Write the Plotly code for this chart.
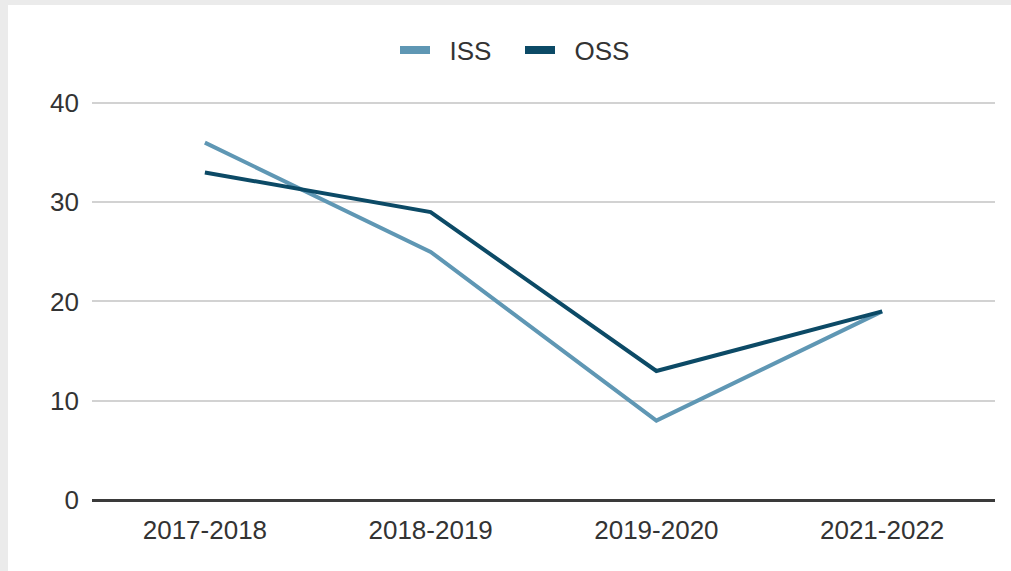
import plotly.graph_objects as go

# School years on the x axis
years = ["2017-2018", "2018-2019", "2019-2020", "2021-2022"]

# Counts per year
iss = [36, 25, 8, 19]
oss = [33, 29, 13, 19]

y_ticks = [0, 10, 20, 30, 40]

iss_color = "#5f97b4"
oss_color = "#0c4a66"
text_color = "#333333"
font_family = "Liberation Sans, Arial, sans-serif"

W, H = 1011, 571
ML, MR, MT, MB = 92, 16, 98, 71
PW, PH = W - ML - MR, H - MT - MB
Y_MAX = 40.5


def px_x(p):
    return (p - ML) / PW


def px_y(p):
    return (H - MB - p) / PH


fig = go.Figure()

# Data lines
fig.add_trace(go.Scatter(x=years, y=iss, mode="lines", name="ISS",
                         line=dict(color=iss_color, width=4),
                         showlegend=False, legendgroup="iss"))
fig.add_trace(go.Scatter(x=years, y=oss, mode="lines", name="OSS",
                         line=dict(color=oss_color, width=4),
                         showlegend=False, legendgroup="oss"))

# Legend entries with thicker swatches
NB = "\u00a0\u00a0"
fig.add_trace(go.Scatter(x=[None], y=[None], mode="lines", name=NB + "ISS",
                         line=dict(color=iss_color, width=8), legendgroup="iss"))
fig.add_trace(go.Scatter(x=[None], y=[None], mode="lines", name=NB + "OSS",
                         line=dict(color=oss_color, width=8), legendgroup="oss"))

# Gray frame strips along the top and left edge of the page
fig.add_shape(type="rect", xref="paper", yref="paper",
              x0=px_x(0), x1=px_x(W), y0=px_y(5), y1=px_y(0),
              fillcolor="#ebebeb", line=dict(width=0), layer="below")
fig.add_shape(type="rect", xref="paper", yref="paper",
              x0=px_x(0), x1=px_x(8), y0=px_y(H), y1=px_y(0),
              fillcolor="#ebebeb", line=dict(width=0), layer="below")

fig.update_layout(
    width=W, height=H,
    margin=dict(l=ML, r=MR, t=MT, b=MB),
    paper_bgcolor="white",
    plot_bgcolor="white",
    font=dict(family=font_family, size=26, color=text_color),
    legend=dict(orientation="h", x=px_x(395), xanchor="left",
                y=px_y(50), yanchor="middle",
                font=dict(size=26, color=text_color),
                entrywidth=80, entrywidthmode="pixels",
                itemwidth=30, traceorder="normal"),
    xaxis=dict(range=[-0.5, 3.5], showgrid=False, zeroline=False,
               showline=False, ticks="", tickfont=dict(size=26),
               ticklabelstandoff=12),
    yaxis=dict(range=[0, Y_MAX], tickvals=y_ticks, showgrid=True,
               gridcolor="#d2d2d2", gridwidth=1.5,
               zeroline=True, zerolinecolor="#3a3a3a", zerolinewidth=2.5,
               showline=False, ticks="", tickfont=dict(size=26),
               ticklabelstandoff=12),
)

fig.write_html("out.html")
